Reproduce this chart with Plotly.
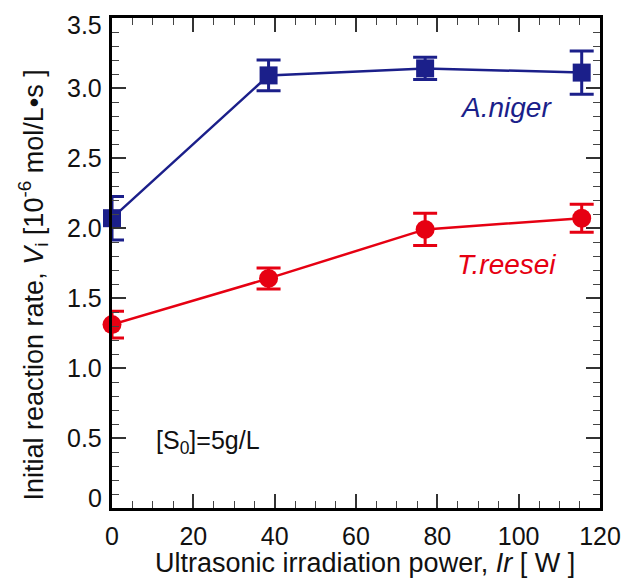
import plotly.graph_objects as go

power = [0, 38.5, 77, 115.5]
aniger = [2.07, 3.09, 3.14, 3.11]
aniger_err = [0.155, 0.11, 0.08, 0.155]
treesei = [1.31, 1.64, 1.99, 2.07]
treesei_err = [0.095, 0.075, 0.115, 0.10]

ytick_vals = [0, 0.5, 1.0, 1.5, 2.0, 2.5, 3.0, 3.5]
ytick_text = ["0", "0.5", "1.0", "1.5", "2.0", "2.5", "3.0", "3.5"]
xtick_vals = [0, 20, 40, 60, 80, 100, 120]

BLUE = "#1b1f8a"
RED = "#e60012"
FONT = "Liberation Sans, Arial, sans-serif"

fig = go.Figure()
fig.add_trace(go.Scatter(
    x=power, y=aniger, mode="lines+markers",
    line=dict(color=BLUE, width=2.5),
    marker=dict(symbol="square", size=18, color=BLUE),
    error_y=dict(type="data", array=aniger_err, color=BLUE, thickness=3, width=12),
    showlegend=False, cliponaxis=False))
fig.add_trace(go.Scatter(
    x=power, y=treesei, mode="lines+markers",
    line=dict(color=RED, width=2.5),
    marker=dict(symbol="circle", size=19, color=RED),
    error_y=dict(type="data", array=treesei_err, color=RED, thickness=3, width=12),
    showlegend=False, cliponaxis=False))

annotations = []
for v, t in zip(ytick_vals, ytick_text):
    shift = 0
    if v == 0:
        shift = 10
    elif v == 3.5:
        shift = -7
    annotations.append(dict(x=0, xref="paper", y=v, yref="y", text=t,
                            showarrow=False, xanchor="right", xshift=-8, yshift=shift,
                            font=dict(family=FONT, size=25, color="#111")))
annotations += [
    dict(x=97, y=2.86, xref="x", yref="y", text="<i>A.niger</i>", showarrow=False,
         font=dict(family=FONT, size=28, color=BLUE)),
    dict(x=97, y=1.74, xref="x", yref="y", text="<i>T.reesei</i>", showarrow=False,
         font=dict(family=FONT, size=28, color=RED)),
    dict(x=23.5, y=0.47, xref="x", yref="y", text="[S<sub>0</sub>]=5g/L", showarrow=False,
         font=dict(family=FONT, size=25, color="#111")),
    dict(x=-0.161, xref="paper", xanchor="center", y=0.455, yref="paper", textangle=-90,
         text="Initial reaction rate, <i>V</i><sub>i</sub> [10<sup>-6</sup> mol/L\u2022s ]",
         showarrow=False, font=dict(family=FONT, size=27, color="#111")),
    dict(x=0.518, xref="paper", xanchor="center", y=-0.112, yref="paper", yanchor="middle",
         text="Ultrasonic irradiation power, <i>Ir</i> [ W ]",
         showarrow=False, font=dict(family=FONT, size=27, color="#111")),
]

fig.update_layout(
    width=633, height=581,
    margin=dict(l=112, r=33, t=18, b=73),
    paper_bgcolor="white", plot_bgcolor="white",
    font=dict(family=FONT, size=25, color="#111"),
    annotations=annotations,
    xaxis=dict(range=[0, 120], tickvals=xtick_vals, ticks="inside", ticklen=14,
               tickwidth=1.5, tickcolor="#333", mirror="allticks", showline=True,
               linecolor="black", linewidth=2.5, showgrid=False, zeroline=False,
               ticklabelstandoff=4, automargin=False,
               tickfont=dict(family=FONT, size=25, color="#111"),
               minor=dict(dtick=5, ticks="inside", ticklen=7, tickwidth=1.2, tickcolor="#444")),
    yaxis=dict(range=[0, 3.5], tickvals=ytick_vals, showticklabels=False, ticks="inside",
               ticklen=14, tickwidth=1.5, tickcolor="#333", mirror="allticks",
               showline=True, linecolor="black", linewidth=2.5, showgrid=False,
               zeroline=False, automargin=False,
               minor=dict(dtick=0.1, ticks="inside", ticklen=7, tickwidth=1.2, tickcolor="#444")),
)

fig.write_html("out.html")
